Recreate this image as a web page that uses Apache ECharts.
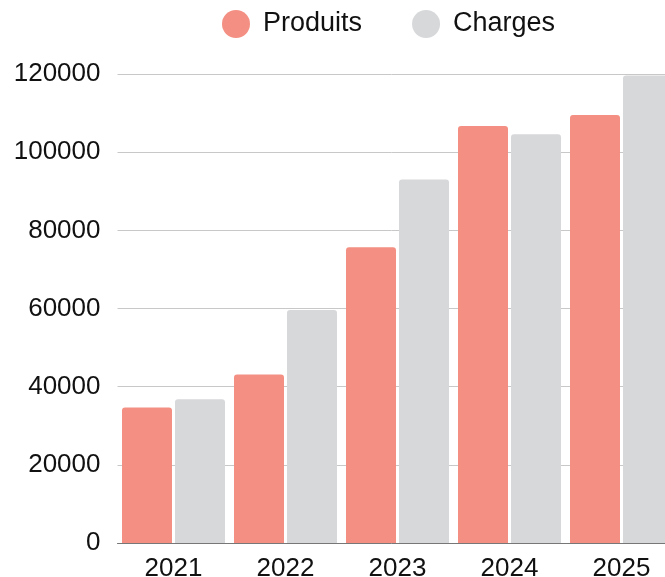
<!DOCTYPE html>
<html>
<head>
<meta charset="utf-8">
<script src="https://cdn.jsdelivr.net/npm/echarts@6/dist/echarts.min.js"></script>
<style>
  html, body { margin: 0; padding: 0; background: #fff; }
  #chart { width: 665px; height: 577px; }
</style>
</head>
<body>
<div id="chart"></div>
<script>
var years = ['2021', '2022', '2023', '2024', '2025'];
var produits = [34700, 43100, 75700, 106700, 109500];
var charges = [36800, 59600, 93000, 104600, 119600];
var yTicks = [0, 20000, 40000, 60000, 80000, 100000, 120000];

var font = 'Liberation Sans, Arial, sans-serif';

var option = {
	animation: false,
	legend: {
		left: 217,
		top: 5,
		icon: 'circle',
		itemWidth: 28,
		itemHeight: 28,
		itemGap: 50,
		textStyle: { fontFamily: font, fontSize: 27, color: '#111', padding: [0, 0, 0, 8] },
		data: ['Produits', 'Charges']
	},
	grid: {
		left: 117.5,
		right: -12.5,
		top: 74,
		bottom: 34,
		outerBoundsMode: 'none',
		containLabel: false
	},
	xAxis: {
		type: 'category',
		data: years,
		axisTick: { show: false },
		axisLine: { lineStyle: { color: '#777', width: 1 } },
		axisLabel: { fontFamily: font, fontSize: 26, color: '#111', margin: 13 }
	},
	yAxis: {
		type: 'value',
		min: yTicks[0],
		max: yTicks[yTicks.length - 1],
		interval: yTicks[1] - yTicks[0],
		axisLine: { show: false },
		axisTick: { show: false },
		splitLine: { lineStyle: { color: '#c8c8c8', width: 1 } },
		axisLabel: {
			fontFamily: font, fontSize: 26, color: '#111', margin: 17,
			formatter: function(v){ return String(v); }
		}
	},
	series: [{
		name: 'Produits',
		type: 'bar',
		data: produits,
		barWidth: 50,
		barGap: '6%',
		itemStyle: { color: '#f49083', borderRadius: [3, 3, 0, 0] }
	}, {
		name: 'Charges',
		type: 'bar',
		data: charges,
		barWidth: 50,
		itemStyle: { color: '#d7d8da', borderRadius: [3, 3, 0, 0] }
	}]
};

var myChart = echarts.init(document.getElementById('chart'));
myChart.setOption(option);
</script>
</body>
</html>
